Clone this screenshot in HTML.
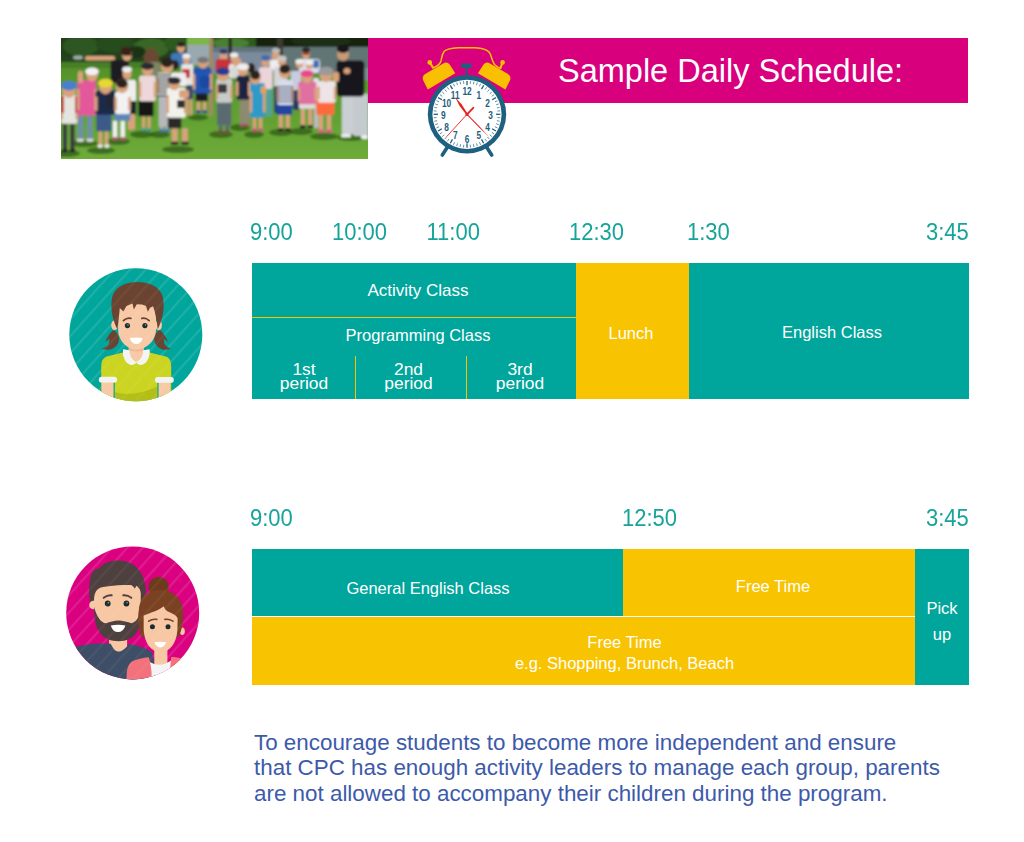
<!DOCTYPE html>
<html><head><meta charset="utf-8"><style>
html,body{margin:0;padding:0;background:#fff;}
body{width:1024px;height:842px;position:relative;overflow:hidden;font-family:"Liberation Sans",sans-serif;}
.a{position:absolute;}
.teal{background:#00A59B;}
.yel{background:#F8C300;}
.lbl{position:absolute;color:#16A49A;font-size:22px;line-height:26px;white-space:nowrap;transform:scaleY(1.05);transform-origin:0 20.6px;}
.ct{position:absolute;color:#fff;font-size:16.5px;line-height:18px;white-space:nowrap;text-align:center;}
.para{position:absolute;left:254px;top:730px;color:#3D5AAA;font-size:22.4px;line-height:25.4px;white-space:nowrap;}
</style></head><body>

<!-- photo -->
<!--PHOTO--><svg class="a" style="left:61px;top:38px;" width="307" height="121" viewBox="0 0 307 121"><defs><linearGradient id="gr" x1="0" y1="0" x2="0" y2="1"><stop offset="0" stop-color="#4A8426"/><stop offset="0.45" stop-color="#5C9C2E"/><stop offset="1" stop-color="#72AE3C"/></linearGradient><filter id="bl" x="-10%" y="-10%" width="120%" height="120%"><feGaussianBlur stdDeviation="0.9"/></filter></defs><g filter="url(#bl)"><rect x="-6.0" y="-6.0" width="325.0" height="139.0" rx="0" fill="url(#gr)"/><rect x="-6.0" y="-6.0" width="136.0" height="30.0" rx="0" fill="#22401A"/><ellipse cx="20.0" cy="8.0" rx="18.0" ry="10.0" fill="#2E5622"/><ellipse cx="55.0" cy="6.0" rx="20.0" ry="9.0" fill="#284C1E"/><ellipse cx="90.0" cy="10.0" rx="18.0" ry="10.0" fill="#3A6628"/><ellipse cx="115.0" cy="5.0" rx="12.0" ry="8.0" fill="#2E5A22"/><ellipse cx="75.0" cy="14.0" rx="10.0" ry="6.0" fill="#1A3214"/><rect x="-6.0" y="18.0" width="46.0" height="8.0" rx="0" fill="#24441A"/><ellipse cx="17.0" cy="19.5" rx="5.0" ry="2.0" fill="#9FB0A8"/><rect x="126.0" y="-6.0" width="24.0" height="14.0" rx="0" fill="#7DB548"/><rect x="126.0" y="7.0" width="28.0" height="20.0" rx="0" fill="#9AA8B0"/><rect x="150.0" y="-6.0" width="163.0" height="17.0" rx="0" fill="#16240F"/><rect x="150.0" y="-6.0" width="45.0" height="16.0" rx="0" fill="#2E5A1E"/><ellipse cx="170.0" cy="5.0" rx="18.0" ry="5.0" fill="#4A8030"/><ellipse cx="260.0" cy="3.0" rx="30.0" ry="6.0" fill="#1C2E16"/><rect x="150.0" y="9.0" width="163.0" height="27.0" rx="0" fill="#7A8B9C"/><rect x="150.0" y="9.0" width="163.0" height="5.0" rx="0" fill="#62727C"/><rect x="222.0" y="9.0" width="91.0" height="27.0" rx="0" fill="#627474"/><rect x="290.0" y="30.0" width="23.0" height="12.0" rx="0" fill="#7A8C90"/><rect x="167.5" y="0.0" width="3.5" height="22.0" rx="0" fill="#2A2A20"/><rect x="216.0" y="0.0" width="6.0" height="18.0" rx="0" fill="#3A3A30"/><rect x="-6.0" y="24.0" width="136.0" height="6.0" rx="0" fill="#467E26"/><rect x="148.0" y="0.0" width="4.0" height="78.0" rx="0.5" fill="#A08A60"/><ellipse cx="5.0" cy="115.5" rx="14.0" ry="3.5" fill="#2E5A18" opacity="0.75"/><ellipse cx="23.0" cy="105.5" rx="14.0" ry="3.5" fill="#2E5A18" opacity="0.75"/><ellipse cx="40.0" cy="112.5" rx="14.0" ry="3.5" fill="#2E5A18" opacity="0.75"/><ellipse cx="57.0" cy="103.5" rx="12.0" ry="3.5" fill="#2E5A18" opacity="0.75"/><ellipse cx="81.0" cy="96.5" rx="12.0" ry="3.5" fill="#2E5A18" opacity="0.75"/><ellipse cx="99.0" cy="96.5" rx="10.0" ry="3.5" fill="#2E5A18" opacity="0.75"/><ellipse cx="117.0" cy="111.5" rx="16.0" ry="3.5" fill="#2E5A18" opacity="0.75"/><ellipse cx="137.0" cy="79.5" rx="10.0" ry="3.0" fill="#2E5A18" opacity="0.75"/><ellipse cx="160.0" cy="96.5" rx="12.0" ry="3.5" fill="#2E5A18" opacity="0.75"/><ellipse cx="179.0" cy="89.5" rx="10.0" ry="3.5" fill="#2E5A18" opacity="0.75"/><ellipse cx="193.0" cy="96.5" rx="10.0" ry="3.5" fill="#2E5A18" opacity="0.75"/><ellipse cx="220.0" cy="94.5" rx="12.0" ry="3.5" fill="#2E5A18" opacity="0.75"/><ellipse cx="240.0" cy="93.5" rx="12.0" ry="3.5" fill="#2E5A18" opacity="0.75"/><ellipse cx="263.0" cy="98.5" rx="14.0" ry="3.5" fill="#2E5A18" opacity="0.75"/><ellipse cx="290.0" cy="99.5" rx="14.0" ry="3.5" fill="#2E5A18" opacity="0.75"/><rect x="24.0" y="18.0" width="30.0" height="4.5" rx="2" fill="#D9A27C"/><rect x="49.6" y="22.0" width="18.1" height="23.0" rx="3" fill="#1C1C22"/><ellipse cx="66.0" cy="17.0" rx="5.0" ry="6.0" fill="#D9A27C"/><ellipse cx="65.0" cy="13.0" rx="5.5" ry="4.0" fill="#3A2418"/><rect x="61.5" y="15.5" width="9.5" height="2.0" rx="0.8" fill="#111"/><ellipse cx="90.0" cy="18.0" rx="6.0" ry="7.0" fill="#D9A27C"/><path d="M83,20 Q84,10 90,10 Q97,10 98,22 L97,30 L94,24 L86,24 L83,32 Z" fill="#6A4A30"/><rect x="86.0" y="24.0" width="13.0" height="16.0" rx="3" fill="#7F8466"/><ellipse cx="120.0" cy="10.0" rx="4.0" ry="5.0" fill="#D9A27C"/><ellipse cx="120.0" cy="6.5" rx="4.0" ry="2.5" fill="#2B211B"/><rect x="110.0" y="15.0" width="20.0" height="13.0" rx="3" fill="#3D78B8"/><ellipse cx="125.5" cy="21.0" rx="4.0" ry="5.0" fill="#D9A27C"/><ellipse cx="125.5" cy="18.0" rx="4.2" ry="2.5" fill="#EEE"/><rect x="120.3" y="26.0" width="12.0" height="22.0" rx="2" fill="#E6E6E2"/><rect x="121.0" y="31.0" width="8.0" height="9.0" rx="1.5" fill="#C4303A"/><ellipse cx="162.5" cy="18.0" rx="3.8" ry="5.0" fill="#D9A27C"/><ellipse cx="162.5" cy="13.5" rx="4.0" ry="2.5" fill="#2A3A70"/><rect x="154.5" y="21.0" width="15.8" height="14.0" rx="2.5" fill="#C8303A"/><ellipse cx="173.0" cy="20.0" rx="3.8" ry="4.5" fill="#D9A27C"/><ellipse cx="173.0" cy="17.0" rx="4.2" ry="2.5" fill="#EEE"/><rect x="168.0" y="26.0" width="10.0" height="14.0" rx="2" fill="#E8E8E4"/><ellipse cx="215.0" cy="18.0" rx="4.0" ry="5.0" fill="#D9A27C"/><ellipse cx="215.0" cy="12.5" rx="4.2" ry="2.5" fill="#BBB"/><rect x="208.6" y="21.8" width="11.4" height="10.2" rx="2" fill="#EDEDED"/><ellipse cx="245.0" cy="16.0" rx="4.0" ry="5.0" fill="#D9A27C"/><ellipse cx="245.0" cy="12.0" rx="4.0" ry="2.5" fill="#2B211B"/><rect x="241.5" y="14.5" width="7.0" height="2.0" rx="0.8" fill="#7A2020"/><rect x="238.0" y="21.0" width="21.0" height="14.0" rx="3" fill="#D8DEE8"/><rect x="252.0" y="22.0" width="6.0" height="8.0" rx="2" fill="#3D6FB5"/><ellipse cx="238.5" cy="26.0" rx="3.8" ry="4.0" fill="#D9A27C"/><ellipse cx="238.5" cy="23.5" rx="4.2" ry="2.5" fill="#EEE"/><ellipse cx="248.5" cy="27.0" rx="3.8" ry="4.0" fill="#D9A27C"/><ellipse cx="248.5" cy="24.5" rx="4.2" ry="2.5" fill="#EEE"/><ellipse cx="221.0" cy="24.0" rx="4.0" ry="5.0" fill="#D9A27C"/><ellipse cx="221.0" cy="20.5" rx="4.5" ry="3.0" fill="#C8C8C8"/><rect x="213.0" y="29.0" width="13.0" height="21.0" rx="2" fill="#D4D4D8"/><rect x="213.0" y="48.0" width="9.0" height="27.0" rx="1.5" fill="#2B3F70"/><ellipse cx="204.5" cy="24.0" rx="4.0" ry="5.0" fill="#D9A27C"/><ellipse cx="204.5" cy="20.0" rx="4.3" ry="2.8" fill="#3A6AB0"/><rect x="198.0" y="29.3" width="13.6" height="21.7" rx="2" fill="#EBD5DA"/><rect x="204.9" y="51.0" width="6.0" height="27.0" rx="1" fill="#4FA39A"/><ellipse cx="66.0" cy="36.0" rx="4.5" ry="5.5" fill="#D9A27C"/><ellipse cx="66.0" cy="31.5" rx="4.8" ry="3.0" fill="#EEE"/><rect x="62.0" y="42.0" width="13.0" height="22.0" rx="2" fill="#EEEEEE"/><rect x="66.2" y="63.0" width="9.0" height="13.7" rx="1.5" fill="#1E2230"/><rect x="67.0" y="76.0" width="7.0" height="15.7" rx="1" fill="#D9A27C"/><ellipse cx="114.0" cy="27.0" rx="3.8" ry="5.0" fill="#2B211B"/><rect x="110.0" y="34.6" width="15.0" height="13.4" rx="2" fill="#EEE"/><ellipse cx="190.0" cy="30.0" rx="4.0" ry="5.0" fill="#2B211B"/><rect x="125.0" y="47.0" width="7.0" height="14.4" rx="1.5" fill="#3A4A6A"/><rect x="125.5" y="61.0" width="2.3" height="16.6" rx="0.8" fill="#D9A27C"/><rect x="129.0" y="61.0" width="2.3" height="16.6" rx="0.8" fill="#D9A27C"/><rect x="229.7" y="33.0" width="10.5" height="19.6" rx="2" fill="#C8CCE0"/><rect x="232.0" y="52.0" width="7.0" height="20.0" rx="1.5" fill="#2A3A60"/><rect x="252.0" y="40.0" width="6.0" height="22.0" rx="2" fill="#E8E0E8"/><rect x="253.0" y="62.0" width="4.5" height="28.0" rx="1" fill="#BBB"/><ellipse cx="176.0" cy="24.0" rx="4.2" ry="5.0" fill="#D9A27C"/><rect x="170.0" y="28.0" width="11.0" height="12.0" rx="2" fill="#D8D8D8"/><rect x="280.8" y="55.6" width="12.2" height="40.6" rx="2" fill="#C9CFD2"/><rect x="292.0" y="55.6" width="15.0" height="42.4" rx="2" fill="#C4CACD"/><rect x="275.6" y="22.6" width="27.8" height="36.0" rx="4" fill="#16181C"/><ellipse cx="282.0" cy="16.0" rx="6.0" ry="7.0" fill="#C99A76"/><ellipse cx="282.0" cy="11.0" rx="6.2" ry="4.0" fill="#15151A"/><rect x="280.0" y="96.0" width="10.0" height="3.5" rx="1.5" fill="#EEE"/><rect x="300.0" y="97.0" width="7.0" height="4.0" rx="1.5" fill="#EEE"/><ellipse cx="286.0" cy="33.0" rx="3.5" ry="3.0" fill="#D9A27C"/><rect x="1.8" y="85.7" width="4.3" height="27.1" rx="0.8" fill="#3A3A40"/><rect x="9.2" y="85.7" width="4.3" height="27.1" rx="0.8" fill="#3A3A40"/><rect x="1.0" y="111.3" width="5.6" height="3.0" rx="1" fill="#222"/><rect x="8.7" y="111.3" width="5.6" height="3.0" rx="1" fill="#222"/><rect x="0.0" y="57.0" width="16.5" height="28.7" rx="2.5" fill="#E4E4E0"/><rect x="-0.6" y="64.2" width="2.6" height="17.2" rx="1" fill="#D9A27C"/><rect x="14.5" y="64.2" width="2.6" height="17.2" rx="1" fill="#D9A27C"/><ellipse cx="8.0" cy="52.0" rx="7.0" ry="7.8" fill="#D9A27C"/><ellipse cx="8.0" cy="47.7" rx="8.2" ry="4.7" fill="#4A7FCC"/><rect x="0.0" y="58.0" width="3.0" height="17.0" rx="1" fill="#C03838"/><rect x="14.0" y="58.0" width="2.5" height="17.0" rx="1" fill="#C03838"/><rect x="17.0" y="77.4" width="5.2" height="24.9" rx="0.8" fill="#6E8EAA"/><rect x="26.1" y="77.4" width="5.2" height="24.9" rx="0.8" fill="#6E8EAA"/><rect x="16.0" y="100.8" width="6.8" height="3.0" rx="1" fill="#DDD"/><rect x="25.5" y="100.8" width="6.8" height="3.0" rx="1" fill="#DDD"/><rect x="16.5" y="42.0" width="18.8" height="35.4" rx="2.5" fill="#E2589A"/><rect x="15.9" y="50.9" width="2.6" height="21.2" rx="1" fill="#D9A27C"/><rect x="33.3" y="50.9" width="2.6" height="21.2" rx="1" fill="#D9A27C"/><ellipse cx="31.0" cy="37.0" rx="5.9" ry="6.5" fill="#D9A27C"/><ellipse cx="31.0" cy="33.4" rx="6.8" ry="3.9" fill="#F2F2F2"/><rect x="17.0" y="33.0" width="5.0" height="12.0" rx="2" fill="#D9A27C"/><rect x="37.5" y="93.2" width="3.6" height="15.1" rx="0.8" fill="#D9A27C"/><rect x="43.8" y="93.2" width="3.6" height="15.1" rx="0.8" fill="#D9A27C"/><rect x="36.8" y="106.8" width="4.7" height="3.0" rx="1" fill="#EEE"/><rect x="43.4" y="106.8" width="4.7" height="3.0" rx="1" fill="#EEE"/><rect x="35.3" y="75.2" width="15.1" height="18.0" rx="1" fill="#3A5A8A"/><rect x="34.6" y="52.6" width="21.0" height="24.1" rx="2.5" fill="#1E2A4A"/><rect x="34.0" y="58.6" width="2.6" height="14.5" rx="1" fill="#D9A27C"/><rect x="53.6" y="58.6" width="2.6" height="14.5" rx="1" fill="#D9A27C"/><ellipse cx="44.5" cy="49.0" rx="6.4" ry="7.2" fill="#D9A27C"/><ellipse cx="44.5" cy="45.1" rx="7.5" ry="4.3" fill="#E8D830"/><rect x="46.0" y="56.0" width="6.0" height="14.0" rx="1.5" fill="#222530"/><rect x="51.8" y="82.7" width="4.4" height="18.1" rx="0.8" fill="#F0F0F0"/><rect x="59.5" y="82.7" width="4.4" height="18.1" rx="0.8" fill="#F0F0F0"/><rect x="51.0" y="99.3" width="5.8" height="3.0" rx="1" fill="#B05070"/><rect x="58.9" y="99.3" width="5.8" height="3.0" rx="1" fill="#B05070"/><rect x="53.4" y="74.4" width="15.8" height="8.3" rx="1" fill="#5E86B8"/><rect x="54.0" y="53.4" width="15.2" height="22.5" rx="2.5" fill="#F2F2F2"/><rect x="53.4" y="59.0" width="2.6" height="13.5" rx="1" fill="#D9A27C"/><rect x="67.2" y="59.0" width="2.6" height="13.5" rx="1" fill="#D9A27C"/><ellipse cx="61.0" cy="48.0" rx="6.4" ry="7.2" fill="#D9A27C"/><ellipse cx="61.0" cy="45.5" rx="5.8" ry="4.5" fill="#2B211B"/><rect x="81.1" y="78.2" width="3.1" height="13.5" rx="0.8" fill="#D9A27C"/><rect x="86.5" y="78.2" width="3.1" height="13.5" rx="0.8" fill="#D9A27C"/><rect x="80.5" y="90.2" width="4.1" height="3.0" rx="1" fill="#2F9C90"/><rect x="86.1" y="90.2" width="4.1" height="3.0" rx="1" fill="#2F9C90"/><rect x="77.4" y="63.2" width="15.1" height="15.0" rx="1" fill="#141418"/><rect x="78.2" y="37.6" width="16.5" height="25.6" rx="2.5" fill="#EDD7DA"/><rect x="77.6" y="44.0" width="2.6" height="15.4" rx="1" fill="#D9A27C"/><rect x="92.7" y="44.0" width="2.6" height="15.4" rx="1" fill="#D9A27C"/><ellipse cx="86.5" cy="31.5" rx="5.6" ry="6.2" fill="#D9A27C"/><ellipse cx="86.5" cy="28.1" rx="6.6" ry="3.7" fill="#2A2A30"/><rect x="99.1" y="86.0" width="3.1" height="6.5" rx="0.8" fill="#B0B0B4"/><rect x="104.6" y="86.0" width="3.1" height="6.5" rx="0.8" fill="#B0B0B4"/><rect x="98.5" y="91.0" width="4.1" height="3.0" rx="1" fill="#4A6EC0"/><rect x="104.2" y="91.0" width="4.1" height="3.0" rx="1" fill="#4A6EC0"/><rect x="97.7" y="58.6" width="10.6" height="30.1" rx="1" fill="#B8B8BC"/><rect x="96.2" y="34.6" width="13.6" height="24.0" rx="2.5" fill="#E0E0E0"/><rect x="95.6" y="40.6" width="2.6" height="14.4" rx="1" fill="#D9A27C"/><rect x="107.8" y="40.6" width="2.6" height="14.4" rx="1" fill="#D9A27C"/><ellipse cx="106.0" cy="28.0" rx="6.4" ry="7.2" fill="#D9A27C"/><ellipse cx="106.0" cy="24.5" rx="6.0" ry="5.0" fill="#2B211B"/><rect x="96.2" y="36.0" width="13.6" height="1.3" rx="0" fill="#1A1A22"/><rect x="96.2" y="39.0" width="13.6" height="1.3" rx="0" fill="#1A1A22"/><rect x="96.2" y="42.0" width="13.6" height="1.3" rx="0" fill="#1A1A22"/><rect x="96.2" y="45.0" width="13.6" height="1.3" rx="0" fill="#1A1A22"/><rect x="96.2" y="48.0" width="13.6" height="1.3" rx="0" fill="#1A1A22"/><rect x="96.2" y="51.0" width="13.6" height="1.3" rx="0" fill="#1A1A22"/><rect x="96.2" y="54.0" width="13.6" height="1.3" rx="0" fill="#1A1A22"/><rect x="96.2" y="57.0" width="13.6" height="1.3" rx="0" fill="#1A1A22"/><rect x="110.9" y="90.2" width="5.8" height="15.1" rx="0.8" fill="#D9A27C"/><rect x="121.0" y="90.2" width="5.8" height="15.1" rx="0.8" fill="#D9A27C"/><rect x="109.8" y="103.8" width="7.6" height="3.0" rx="1" fill="#222"/><rect x="120.2" y="103.8" width="7.6" height="3.0" rx="1" fill="#222"/><rect x="106.8" y="78.2" width="13.5" height="12.0" rx="1" fill="#2A2A2A"/><rect x="106.0" y="49.6" width="18.8" height="30.1" rx="2.5" fill="#F2F2EC"/><rect x="105.4" y="57.1" width="2.6" height="18.1" rx="1" fill="#D9A27C"/><rect x="122.8" y="57.1" width="2.6" height="18.1" rx="1" fill="#D9A27C"/><ellipse cx="113.2" cy="46.0" rx="5.6" ry="6.2" fill="#D9A27C"/><ellipse cx="113.2" cy="42.6" rx="6.6" ry="3.7" fill="#2A2A30"/><rect x="118.0" y="52.0" width="10.0" height="8.0" rx="2" fill="#D9A27C"/><rect x="116.0" y="62.0" width="8.0" height="8.0" rx="1.5" fill="#303030"/><rect x="135.7" y="63.2" width="3.5" height="10.5" rx="0.8" fill="#D9A27C"/><rect x="141.8" y="63.2" width="3.5" height="10.5" rx="0.8" fill="#D9A27C"/><rect x="135.0" y="72.2" width="4.6" height="3.0" rx="1" fill="#2A4A9A"/><rect x="141.4" y="72.2" width="4.6" height="3.0" rx="1" fill="#2A4A9A"/><rect x="134.6" y="53.4" width="12.0" height="9.8" rx="1" fill="#1C1C22"/><rect x="132.3" y="29.3" width="18.1" height="26.3" rx="2.5" fill="#2255B0"/><rect x="131.7" y="35.9" width="2.6" height="15.8" rx="1" fill="#D9A27C"/><rect x="148.4" y="35.9" width="2.6" height="15.8" rx="1" fill="#D9A27C"/><ellipse cx="142.0" cy="25.0" rx="4.9" ry="5.5" fill="#D9A27C"/><ellipse cx="142.0" cy="22.0" rx="5.7" ry="3.3" fill="#777"/><rect x="139.0" y="38.0" width="10.0" height="12.0" rx="2" fill="#1E4AA0"/><rect x="157.7" y="87.2" width="3.8" height="6.8" rx="0.8" fill="#5A6A70"/><rect x="164.4" y="87.2" width="3.8" height="6.8" rx="0.8" fill="#5A6A70"/><rect x="157.0" y="92.5" width="5.0" height="3.0" rx="1" fill="#7A4A3A"/><rect x="164.0" y="92.5" width="5.0" height="3.0" rx="1" fill="#7A4A3A"/><rect x="156.0" y="63.2" width="14.3" height="24.0" rx="1" fill="#5A6A70"/><rect x="155.3" y="40.6" width="15.7" height="24.1" rx="2.5" fill="#C8CCC8"/><rect x="154.7" y="46.6" width="2.6" height="14.5" rx="1" fill="#D9A27C"/><rect x="169.0" y="46.6" width="2.6" height="14.5" rx="1" fill="#D9A27C"/><ellipse cx="162.0" cy="37.0" rx="5.9" ry="6.5" fill="#D9A27C"/><ellipse cx="162.0" cy="33.4" rx="6.8" ry="3.9" fill="#2A3A90"/><rect x="157.0" y="46.0" width="9.0" height="9.0" rx="1.5" fill="#3A3A40"/><rect x="179.5" y="80.0" width="2.9" height="7.0" rx="0.8" fill="#8C8A70"/><rect x="184.6" y="80.0" width="2.9" height="7.0" rx="0.8" fill="#8C8A70"/><rect x="179.0" y="85.5" width="3.8" height="3.0" rx="1" fill="#C04070"/><rect x="184.2" y="85.5" width="3.8" height="3.0" rx="1" fill="#C04070"/><rect x="178.6" y="60.0" width="10.4" height="25.7" rx="1" fill="#8C8A70"/><rect x="175.6" y="37.6" width="13.4" height="24.1" rx="2.5" fill="#1E2440"/><rect x="175.0" y="43.6" width="2.6" height="14.5" rx="1" fill="#D9A27C"/><rect x="187.0" y="43.6" width="2.6" height="14.5" rx="1" fill="#D9A27C"/><ellipse cx="182.0" cy="32.0" rx="5.3" ry="5.9" fill="#D9A27C"/><ellipse cx="182.0" cy="28.8" rx="6.1" ry="3.5" fill="#EEE"/><rect x="191.7" y="79.7" width="3.5" height="12.3" rx="0.8" fill="#D9A27C"/><rect x="197.8" y="79.7" width="3.5" height="12.3" rx="0.8" fill="#D9A27C"/><rect x="191.0" y="90.5" width="4.6" height="3.0" rx="1" fill="#D04A80"/><rect x="197.4" y="90.5" width="4.6" height="3.0" rx="1" fill="#D04A80"/><rect x="189.0" y="45.0" width="15.0" height="34.7" rx="2.5" fill="#2E9AC8"/><rect x="188.4" y="53.7" width="2.6" height="20.8" rx="1" fill="#D9A27C"/><rect x="202.0" y="53.7" width="2.6" height="20.8" rx="1" fill="#D9A27C"/><ellipse cx="194.3" cy="40.0" rx="5.6" ry="6.2" fill="#D9A27C"/><ellipse cx="194.3" cy="37.0" rx="5.0" ry="4.5" fill="#2B211B"/><rect x="200.0" y="48.0" width="5.0" height="8.0" rx="2" fill="#E8A050"/><rect x="217.8" y="76.7" width="4.0" height="15.0" rx="0.8" fill="#D9A27C"/><rect x="224.8" y="76.7" width="4.0" height="15.0" rx="0.8" fill="#D9A27C"/><rect x="217.0" y="90.2" width="5.2" height="3.0" rx="1" fill="#222"/><rect x="224.2" y="90.2" width="5.2" height="3.0" rx="1" fill="#222"/><rect x="215.4" y="66.0" width="15.8" height="10.7" rx="1" fill="#2244A0"/><rect x="216.2" y="42.0" width="15.8" height="25.0" rx="2.5" fill="#D8DCE8"/><rect x="215.6" y="48.2" width="2.6" height="15.0" rx="1" fill="#D9A27C"/><rect x="230.0" y="48.2" width="2.6" height="15.0" rx="1" fill="#D9A27C"/><ellipse cx="223.7" cy="34.0" rx="5.9" ry="6.5" fill="#D9A27C"/><ellipse cx="223.7" cy="31.0" rx="5.4" ry="4.6" fill="#2B211B"/><rect x="216.2" y="48.0" width="15.8" height="1.2" rx="0" fill="#3A4A7A"/><rect x="216.2" y="51.0" width="15.8" height="1.2" rx="0" fill="#3A4A7A"/><rect x="216.2" y="54.0" width="15.8" height="1.2" rx="0" fill="#3A4A7A"/><rect x="216.2" y="57.0" width="15.8" height="1.2" rx="0" fill="#3A4A7A"/><rect x="216.2" y="60.0" width="15.8" height="1.2" rx="0" fill="#3A4A7A"/><rect x="216.2" y="63.0" width="15.8" height="1.2" rx="0" fill="#3A4A7A"/><rect x="239.8" y="70.7" width="4.2" height="18.0" rx="0.8" fill="#D9A27C"/><rect x="247.1" y="70.7" width="4.2" height="18.0" rx="0.8" fill="#D9A27C"/><rect x="239.0" y="87.2" width="5.5" height="3.0" rx="1" fill="#222"/><rect x="246.5" y="87.2" width="5.5" height="3.0" rx="1" fill="#222"/><rect x="238.0" y="64.0" width="16.0" height="6.7" rx="1" fill="#DDD"/><rect x="237.2" y="43.6" width="18.1" height="22.6" rx="2.5" fill="#E070A0"/><rect x="236.6" y="49.2" width="2.6" height="13.6" rx="1" fill="#D9A27C"/><rect x="253.3" y="49.2" width="2.6" height="13.6" rx="1" fill="#D9A27C"/><ellipse cx="246.0" cy="39.0" rx="5.6" ry="6.2" fill="#D9A27C"/><ellipse cx="246.0" cy="35.6" rx="6.6" ry="3.7" fill="#E84A8C"/><rect x="257.8" y="76.7" width="4.5" height="16.5" rx="0.8" fill="#D9A27C"/><rect x="265.7" y="76.7" width="4.5" height="16.5" rx="0.8" fill="#D9A27C"/><rect x="257.0" y="91.7" width="5.9" height="3.0" rx="1" fill="#E0508A"/><rect x="265.1" y="91.7" width="5.9" height="3.0" rx="1" fill="#E0508A"/><rect x="255.3" y="61.7" width="18.0" height="15.0" rx="1" fill="#FF6A3C"/><rect x="256.8" y="42.9" width="18.0" height="21.8" rx="2.5" fill="#EEE4E8"/><rect x="256.2" y="48.4" width="2.6" height="13.1" rx="1" fill="#D9A27C"/><rect x="272.8" y="48.4" width="2.6" height="13.1" rx="1" fill="#D9A27C"/><ellipse cx="265.0" cy="37.0" rx="6.4" ry="7.2" fill="#D9A27C"/><ellipse cx="265.0" cy="33.1" rx="7.5" ry="4.3" fill="#9A9A9A"/><rect x="272.0" y="34.0" width="6.0" height="10.0" rx="2" fill="#D9A27C"/></g></svg><!--/PHOTO-->

<!-- banner -->
<div class="a" style="left:368px;top:38px;width:600px;height:65px;background:#D9007E;"></div>
<div class="a" style="left:558px;top:51px;color:#fff;font-size:32.5px;line-height:40px;white-space:nowrap;">Sample Daily Schedule:</div>

<!--CLOCK--><svg class="a" style="left:420px;top:40px;" width="95" height="120" viewBox="420 40 95 120"><path d="M434,67.5 C437.5,66 440,64.5 441,61 C441.8,57 441.8,54 444.5,51 C447.5,48.3 452,48 458,47.7 L475,47.7 C481,48 486,48.6 489,52 C491.5,55 491.5,60 494.5,64.5 C496,66 498,67.2 500,68.3" fill="none" stroke="#F8C000" stroke-width="1.5" stroke-linecap="round"/><line x1="429.7" y1="62.4" x2="433.6" y2="68.5" stroke="#F8C000" stroke-width="2.2"/><circle cx="429.7" cy="62.4" r="2.3" fill="#F8C000"/><line x1="502.6" y1="62.4" x2="500.2" y2="68.6" stroke="#F8C000" stroke-width="2.2"/><circle cx="502.6" cy="62.4" r="2.3" fill="#F8C000"/><path d="M0,0 L31.8,0 L31.6,-9 C31.4,-13 29.5,-14.6 26.5,-14.6 L6,-14.6 C2.5,-14.6 1,-12.5 0.6,-10 Z" fill="#F8C000" transform="translate(427.8,89.4) rotate(-30.4)"/><path d="M0,0 L31.8,0 L31.6,-9 C31.4,-13 29.5,-14.6 26.5,-14.6 L6,-14.6 C2.5,-14.6 1,-12.5 0.6,-10 Z" fill="#F8C000" transform="translate(933.2,0) scale(-1,1) translate(427.8,89.4) rotate(-30.4)"/><rect x="461.3" y="63.5" width="10.2" height="4.4" fill="#1E6080"/><rect x="465.5" y="67.5" width="2" height="8" fill="#1E6080"/><line x1="447.5" y1="147" x2="442.3" y2="155" stroke="#1E6080" stroke-width="3.6" stroke-linecap="round"/><line x1="486.5" y1="147" x2="491.7" y2="155" stroke="#1E6080" stroke-width="3.6" stroke-linecap="round"/><circle cx="467" cy="114.3" r="39.2" fill="#1E6080"/><circle cx="467" cy="114.3" r="34.6" fill="#fff"/><line x1="467.00" y1="85.30" x2="467.00" y2="80.90" stroke="#1E6080" stroke-width="1.3"/><line x1="470.20" y1="83.87" x2="470.49" y2="81.08" stroke="#1E6080" stroke-width="0.7"/><line x1="473.36" y1="84.37" x2="473.94" y2="81.63" stroke="#1E6080" stroke-width="0.7"/><line x1="476.46" y1="85.20" x2="477.32" y2="82.53" stroke="#1E6080" stroke-width="0.7"/><line x1="479.45" y1="86.35" x2="480.59" y2="83.79" stroke="#1E6080" stroke-width="0.7"/><line x1="481.50" y1="89.19" x2="483.70" y2="85.37" stroke="#1E6080" stroke-width="1.3"/><line x1="484.99" y1="89.54" x2="486.63" y2="87.28" stroke="#1E6080" stroke-width="0.7"/><line x1="487.48" y1="91.56" x2="489.35" y2="89.48" stroke="#1E6080" stroke-width="0.7"/><line x1="489.74" y1="93.82" x2="491.82" y2="91.95" stroke="#1E6080" stroke-width="0.7"/><line x1="491.76" y1="96.31" x2="494.02" y2="94.67" stroke="#1E6080" stroke-width="0.7"/><line x1="492.11" y1="99.80" x2="495.93" y2="97.60" stroke="#1E6080" stroke-width="1.3"/><line x1="494.95" y1="101.85" x2="497.51" y2="100.71" stroke="#1E6080" stroke-width="0.7"/><line x1="496.10" y1="104.84" x2="498.77" y2="103.98" stroke="#1E6080" stroke-width="0.7"/><line x1="496.93" y1="107.94" x2="499.67" y2="107.36" stroke="#1E6080" stroke-width="0.7"/><line x1="497.43" y1="111.10" x2="500.22" y2="110.81" stroke="#1E6080" stroke-width="0.7"/><line x1="496.00" y1="114.30" x2="500.40" y2="114.30" stroke="#1E6080" stroke-width="1.3"/><line x1="497.43" y1="117.50" x2="500.22" y2="117.79" stroke="#1E6080" stroke-width="0.7"/><line x1="496.93" y1="120.66" x2="499.67" y2="121.24" stroke="#1E6080" stroke-width="0.7"/><line x1="496.10" y1="123.76" x2="498.77" y2="124.62" stroke="#1E6080" stroke-width="0.7"/><line x1="494.95" y1="126.75" x2="497.51" y2="127.89" stroke="#1E6080" stroke-width="0.7"/><line x1="492.11" y1="128.80" x2="495.93" y2="131.00" stroke="#1E6080" stroke-width="1.3"/><line x1="491.76" y1="132.29" x2="494.02" y2="133.93" stroke="#1E6080" stroke-width="0.7"/><line x1="489.74" y1="134.78" x2="491.82" y2="136.65" stroke="#1E6080" stroke-width="0.7"/><line x1="487.48" y1="137.04" x2="489.35" y2="139.12" stroke="#1E6080" stroke-width="0.7"/><line x1="484.99" y1="139.06" x2="486.63" y2="141.32" stroke="#1E6080" stroke-width="0.7"/><line x1="481.50" y1="139.41" x2="483.70" y2="143.23" stroke="#1E6080" stroke-width="1.3"/><line x1="479.45" y1="142.25" x2="480.59" y2="144.81" stroke="#1E6080" stroke-width="0.7"/><line x1="476.46" y1="143.40" x2="477.32" y2="146.07" stroke="#1E6080" stroke-width="0.7"/><line x1="473.36" y1="144.23" x2="473.94" y2="146.97" stroke="#1E6080" stroke-width="0.7"/><line x1="470.20" y1="144.73" x2="470.49" y2="147.52" stroke="#1E6080" stroke-width="0.7"/><line x1="467.00" y1="143.30" x2="467.00" y2="147.70" stroke="#1E6080" stroke-width="1.3"/><line x1="463.80" y1="144.73" x2="463.51" y2="147.52" stroke="#1E6080" stroke-width="0.7"/><line x1="460.64" y1="144.23" x2="460.06" y2="146.97" stroke="#1E6080" stroke-width="0.7"/><line x1="457.54" y1="143.40" x2="456.68" y2="146.07" stroke="#1E6080" stroke-width="0.7"/><line x1="454.55" y1="142.25" x2="453.41" y2="144.81" stroke="#1E6080" stroke-width="0.7"/><line x1="452.50" y1="139.41" x2="450.30" y2="143.23" stroke="#1E6080" stroke-width="1.3"/><line x1="449.01" y1="139.06" x2="447.37" y2="141.32" stroke="#1E6080" stroke-width="0.7"/><line x1="446.52" y1="137.04" x2="444.65" y2="139.12" stroke="#1E6080" stroke-width="0.7"/><line x1="444.26" y1="134.78" x2="442.18" y2="136.65" stroke="#1E6080" stroke-width="0.7"/><line x1="442.24" y1="132.29" x2="439.98" y2="133.93" stroke="#1E6080" stroke-width="0.7"/><line x1="441.89" y1="128.80" x2="438.07" y2="131.00" stroke="#1E6080" stroke-width="1.3"/><line x1="439.05" y1="126.75" x2="436.49" y2="127.89" stroke="#1E6080" stroke-width="0.7"/><line x1="437.90" y1="123.76" x2="435.23" y2="124.62" stroke="#1E6080" stroke-width="0.7"/><line x1="437.07" y1="120.66" x2="434.33" y2="121.24" stroke="#1E6080" stroke-width="0.7"/><line x1="436.57" y1="117.50" x2="433.78" y2="117.79" stroke="#1E6080" stroke-width="0.7"/><line x1="438.00" y1="114.30" x2="433.60" y2="114.30" stroke="#1E6080" stroke-width="1.3"/><line x1="436.57" y1="111.10" x2="433.78" y2="110.81" stroke="#1E6080" stroke-width="0.7"/><line x1="437.07" y1="107.94" x2="434.33" y2="107.36" stroke="#1E6080" stroke-width="0.7"/><line x1="437.90" y1="104.84" x2="435.23" y2="103.98" stroke="#1E6080" stroke-width="0.7"/><line x1="439.05" y1="101.85" x2="436.49" y2="100.71" stroke="#1E6080" stroke-width="0.7"/><line x1="441.89" y1="99.80" x2="438.07" y2="97.60" stroke="#1E6080" stroke-width="1.3"/><line x1="442.24" y1="96.31" x2="439.98" y2="94.67" stroke="#1E6080" stroke-width="0.7"/><line x1="444.26" y1="93.82" x2="442.18" y2="91.95" stroke="#1E6080" stroke-width="0.7"/><line x1="446.52" y1="91.56" x2="444.65" y2="89.48" stroke="#1E6080" stroke-width="0.7"/><line x1="449.01" y1="89.54" x2="447.37" y2="87.28" stroke="#1E6080" stroke-width="0.7"/><line x1="452.50" y1="89.19" x2="450.30" y2="85.37" stroke="#1E6080" stroke-width="1.3"/><line x1="454.55" y1="86.35" x2="453.41" y2="83.79" stroke="#1E6080" stroke-width="0.7"/><line x1="457.54" y1="85.20" x2="456.68" y2="82.53" stroke="#1E6080" stroke-width="0.7"/><line x1="460.64" y1="84.37" x2="460.06" y2="81.63" stroke="#1E6080" stroke-width="0.7"/><line x1="463.80" y1="83.87" x2="463.51" y2="81.08" stroke="#1E6080" stroke-width="0.7"/><text transform="translate(478.80,98.56) scale(0.8,1)" text-anchor="middle" font-size="10.4" font-weight="bold" fill="#1E6080" font-family="Liberation Sans">1</text><text transform="translate(487.44,107.20) scale(0.8,1)" text-anchor="middle" font-size="10.4" font-weight="bold" fill="#1E6080" font-family="Liberation Sans">2</text><text transform="translate(490.60,119.00) scale(0.8,1)" text-anchor="middle" font-size="10.4" font-weight="bold" fill="#1E6080" font-family="Liberation Sans">3</text><text transform="translate(487.44,130.80) scale(0.8,1)" text-anchor="middle" font-size="10.4" font-weight="bold" fill="#1E6080" font-family="Liberation Sans">4</text><text transform="translate(478.80,139.44) scale(0.8,1)" text-anchor="middle" font-size="10.4" font-weight="bold" fill="#1E6080" font-family="Liberation Sans">5</text><text transform="translate(467.00,142.60) scale(0.8,1)" text-anchor="middle" font-size="10.4" font-weight="bold" fill="#1E6080" font-family="Liberation Sans">6</text><text transform="translate(455.20,139.44) scale(0.8,1)" text-anchor="middle" font-size="10.4" font-weight="bold" fill="#1E6080" font-family="Liberation Sans">7</text><text transform="translate(446.56,130.80) scale(0.8,1)" text-anchor="middle" font-size="10.4" font-weight="bold" fill="#1E6080" font-family="Liberation Sans">8</text><text transform="translate(443.40,119.00) scale(0.8,1)" text-anchor="middle" font-size="10.4" font-weight="bold" fill="#1E6080" font-family="Liberation Sans">9</text><text transform="translate(446.56,107.20) scale(0.8,1)" text-anchor="middle" font-size="10.4" font-weight="bold" fill="#1E6080" font-family="Liberation Sans">10</text><text transform="translate(455.20,98.56) scale(0.8,1)" text-anchor="middle" font-size="10.4" font-weight="bold" fill="#1E6080" font-family="Liberation Sans">11</text><text transform="translate(467.00,95.40) scale(0.8,1)" text-anchor="middle" font-size="10.4" font-weight="bold" fill="#1E6080" font-family="Liberation Sans">12</text><path d="M467.66,113.84 L461.58,104.21 L455.20,97.30 L459.44,105.69 L466.34,114.76 Z" fill="#E8231E"/><line x1="467" y1="114.3" x2="473.3" y2="107.8" stroke="#E8231E" stroke-width="1.9" stroke-linecap="round"/><path d="M466.64,114.65 L478.82,127.28 L489.20,137.20 L479.60,126.51 L467.36,113.95 Z" fill="#E8231E"/><line x1="467" y1="114.3" x2="446.5" y2="136.8" stroke="#E8231E" stroke-width="0.9"/><rect x="465.5" y="112.8" width="3" height="3" fill="#E8231E"/></svg><!--/CLOCK-->

<!-- timeline 1 -->
<div class="lbl" style="left:250px;top:220px;">9:00</div>
<div class="lbl" style="left:332px;top:220px;">10:00</div>
<div class="lbl" style="left:426.5px;top:220px;">11:00</div>
<div class="lbl" style="left:569px;top:220px;">12:30</div>
<div class="lbl" style="left:687px;top:220px;">1:30</div>
<div class="lbl" style="left:926px;top:220px;">3:45</div>

<div class="a teal" style="left:252px;top:263px;width:324px;height:136px;"></div>
<div class="a" style="left:252px;top:317px;width:324px;height:1px;background:#F8C300;"></div>
<div class="a" style="left:355px;top:356px;width:1px;height:43px;background:#F8C300;"></div>
<div class="a" style="left:466px;top:356px;width:1px;height:43px;background:#F8C300;"></div>
<div class="a yel" style="left:576px;top:263px;width:113px;height:136px;"></div>
<div class="a teal" style="left:689px;top:263px;width:280px;height:136px;"></div>

<div class="ct" style="left:252px;width:332px;top:282px;font-size:17px;">Activity Class</div>
<div class="ct" style="left:252px;width:332px;top:326px;">Programming Class</div>
<div class="ct" style="left:252px;width:104px;top:363px;line-height:13.6px;font-size:17.4px;">1st<br>period</div>
<div class="ct" style="left:353.5px;width:110px;top:363px;line-height:13.6px;font-size:17.4px;">2nd<br>period</div>
<div class="ct" style="left:465.5px;width:109px;top:363px;line-height:13.6px;font-size:17.4px;">3rd<br>period</div>
<div class="ct" style="left:576px;width:110px;top:324px;">Lunch</div>
<div class="ct" style="left:689px;width:286px;top:323px;">English Class</div>

<!-- timeline 2 -->
<div class="lbl" style="left:250px;top:506px;">9:00</div>
<div class="lbl" style="left:622px;top:506px;">12:50</div>
<div class="lbl" style="left:926px;top:506px;">3:45</div>

<div class="a teal" style="left:252px;top:549px;width:371px;height:67px;"></div>
<div class="a yel" style="left:623px;top:549px;width:292px;height:67px;"></div>
<div class="a yel" style="left:252px;top:617px;width:663px;height:68px;"></div>
<div class="a teal" style="left:915px;top:549px;width:54px;height:136px;"></div>

<div class="ct" style="left:252px;width:352px;top:579px;">General English Class</div>
<div class="ct" style="left:623px;width:300px;top:577px;">Free Time</div>
<div class="ct" style="left:252px;width:745px;top:632px;line-height:21.4px;">Free Time<br>e.g. Shopping, Brunch, Beach</div>
<div class="ct" style="left:915px;width:54px;top:596px;line-height:25.5px;">Pick<br>up</div>

<div class="para">To encourage students to become more independent and ensure<br>that CPC has enough activity leaders to manage each group, parents<br>are not allowed to accompany their children during the program.</div>

<!-- avatars -->
<!--GIRL--><svg class="a" style="left:69px;top:268px;" width="134" height="134" viewBox="69 268 134 134">
<defs>
<clipPath id="cg"><circle cx="135.8" cy="334.8" r="66.5"/></clipPath>
<pattern id="stg" patternUnits="userSpaceOnUse" width="11.5" height="11.5" patternTransform="rotate(42)">
<rect x="0" y="0" width="2.2" height="11.5" fill="#fff"/>
</pattern>
</defs>
<circle cx="135.8" cy="334.8" r="66.5" fill="#00A59B"/>
<g clip-path="url(#cg)">
<rect x="69" y="268" width="134" height="134" fill="url(#stg)" opacity="0.075"/>
<!-- pigtails -->
<path id="pt" d="M113.2,330.2 C116.5,331.5 119,335 119,339 C119,343.5 116,347.5 111,349.3 C108,350.2 105,349.8 102.3,348.7 C105,347.5 107.5,346 108.8,344 C109.2,342 109.4,340.5 109.4,338.8 L105.1,342.1 C106.2,339.5 107.5,337 108.9,335 C110.3,333 111.7,331.3 113.2,330.2 Z" fill="#6B4431"/>
<path d="M113.2,330.2 C116.5,331.5 119,335 119,339 C119,343.5 116,347.5 111,349.3 C108,350.2 105,349.8 102.3,348.7 C105,347.5 107.5,346 108.8,344 C109.2,342 109.4,340.5 109.4,338.8 L105.1,342.1 C106.2,339.5 107.5,337 108.9,335 C110.3,333 111.7,331.3 113.2,330.2 Z" fill="#6B4431" transform="translate(273.2,0) scale(-1,1)"/>
<!-- shirt -->
<path d="M101.2,402 L101.2,367 C101.3,361 102.5,358.5 106.6,356.4 L123,352.5 L149.5,352.5 L166.7,356.8 C170,358.5 171,361.5 171.2,367 L171.3,402 Z" fill="#CBD521"/>
<path d="M114.8,392 Q132,398 157.4,386.5 L157.4,403 L114.8,403 Z" fill="#B4BE18"/>
<!-- arms -->
<rect x="101.9" y="380" width="11.7" height="24" fill="#F8C9A6"/>
<rect x="158.5" y="380" width="11.6" height="24" fill="#F8C9A6"/>
<rect x="113.6" y="382.6" width="1.2" height="22" fill="#00A59B"/>
<rect x="157.4" y="382.6" width="1.1" height="22" fill="#00A59B"/>
<rect x="98.8" y="376.7" width="18.3" height="5.9" rx="2.9" fill="#F3F3F3"/>
<rect x="155" y="377.1" width="18.8" height="5.6" rx="2.8" fill="#F3F3F3"/>
<!-- neck -->
<rect x="128.8" y="343" width="15" height="17" fill="#F8C9A6"/>
<path d="M128.8,346.5 L143.8,346.5 L143.8,350.5 Q136.3,352.5 128.8,350.5 Z" fill="#EEB894"/>
<!-- collar -->
<path d="M123,349.6 C122.3,358 126.5,362.5 131.5,362.3 C133.5,362.2 135.3,361.2 136.3,360.2 C137.3,361.2 139.1,362.2 141.1,362.3 C146.1,362.5 150.2,358 149.4,349.6 L143.3,350.2 C143.3,356.5 140,361 136.3,361 C132.6,361 129.3,356.5 129.3,350.2 Z" fill="#F4F4F4"/>
<path d="M123,349.6 C122.3,358 126.5,364.8 131.5,365 C133.5,365 135.3,364 136.3,362.5 C137.3,364 139.1,365 141.1,365 C146.1,364.8 150.2,358 149.4,349.6 L143.3,350.2 C143.3,356.5 140,361.5 136.3,361.5 C132.6,361.5 129.3,356.5 129.3,350.2 Z" fill="#F4F4F4"/>
<!-- ears -->
<ellipse cx="114.6" cy="325.3" rx="3.3" ry="4.8" fill="#F8C9A6"/>
<ellipse cx="158.6" cy="325.3" rx="3.3" ry="4.8" fill="#F8C9A6"/>
<!-- face -->
<path d="M118.1,300 L118.1,330 C118.5,342 128,349.5 136.3,349.5 C145,349.5 155.5,342 156,330 L156,300 Z" fill="#F8C9A6"/>
<!-- hair -->
<path d="M117.3,329.3 C114.5,324 112.2,317 111.6,310 C111.2,305 111.3,300 112.5,296 C115.5,287 125,282 137.5,282 C150,282 159.5,287 162.5,296 C163.7,300 163.8,305 163.4,310 C162.8,317 160.5,324 157.7,329.3 C156.8,321 155.5,313 153.1,306.3 L150,307.8 L147.8,311.7 L146,306 L142,304.5 L136.8,304.2 L133.8,309.5 L132.5,303.5 L126.5,306 L123.4,311.5 L119.8,308 C119.2,315 118.5,322 117.3,329.3 Z" fill="#6B4431"/>
<!-- eyebrows -->
<path d="M123.4,320.6 Q127,317.3 130.9,318.4" fill="none" stroke="#6B4431" stroke-width="1.7" stroke-linecap="round"/>
<path d="M141.8,318.4 Q145.7,317.3 149.2,320.6" fill="none" stroke="#6B4431" stroke-width="1.7" stroke-linecap="round"/>
<!-- eyes -->
<circle cx="127.4" cy="325.6" r="2.6" fill="#1C2A2E"/>
<circle cx="144.9" cy="325.6" r="2.6" fill="#1C2A2E"/>
<circle cx="128" cy="325" r="0.7" fill="#fff" opacity="0.6"/>
<circle cx="145.5" cy="325" r="0.7" fill="#fff" opacity="0.6"/>
<!-- mouth -->
<path d="M129.8,338 Q136.3,336.8 142.7,338 Q141,344 136.3,344 Q131.5,344 129.8,338 Z" fill="#fff"/>
<!-- stripes over figure -->
<rect x="69" y="268" width="134" height="134" fill="url(#stg)" opacity="0.045"/>
</g>
</svg>
<!--/GIRL-->
<!--PARENT--><svg class="a" style="left:66px;top:546px;" width="134" height="134" viewBox="66 546 134 134">
<defs>
<clipPath id="cp"><circle cx="132.7" cy="612.9" r="66.5"/></clipPath>
<pattern id="stp" patternUnits="userSpaceOnUse" width="11.5" height="11.5" patternTransform="rotate(42)">
<rect x="0" y="0" width="2.2" height="11.5" fill="#fff"/>
</pattern>
</defs>
<circle cx="132.7" cy="612.9" r="66.5" fill="#DA0080"/>
<g clip-path="url(#cp)">
<rect x="66" y="546" width="134" height="134" fill="url(#stp)" opacity="0.07"/>
<!-- man neck -->
<rect x="109.1" y="632" width="18" height="20" fill="#F7C8A3"/>
<!-- man shirt -->
<path d="M60,650 L85,644.8 C95,643.2 103,643.3 110.8,643.7 C113,648.5 115.5,651.6 118.7,651.6 C122,651.6 126,648 128.8,644.3 C138,645 147,648.5 152.4,652.7 L160,700 L60,700 Z" fill="#3E4E66"/>
<!-- man hair -->
<path d="M90.3,603 C88.6,594 88.6,584 90.5,577 C92,571.5 95,568.5 99,568.6 C103,563 110,560.6 118.8,560.6 C129,560.6 137,565.5 141.5,574 C144.5,580 146,586 146,592 L140.5,604 L94,604 Z" fill="#4F4040"/>
<!-- man ear -->
<circle cx="93.5" cy="605" r="4.3" fill="#F7C8A3"/>
<!-- man face -->
<path d="M94,600 C94,593 96.5,588.2 103,587 C108,586.2 113,585.6 118,585.2 C123,585 128,584.8 133,585 C137.5,585.5 140.5,588.5 140.8,594 L140.5,612 C140,620 136,624 130,626 L100,626 C96,622 94,612 94,600 Z" fill="#F7C8A3"/>
<!-- hair lock -->
<path d="M130.4,584.4 C132.5,585.5 134,587 134.9,588.8 C136,586.8 136.5,585 136.3,584 Z" fill="#4F4040"/>
<!-- beard -->
<path d="M94,607 C94,621 97,632 104,637 C109,640.6 114,641.2 119,641.2 C126,641.2 133,638.3 136.5,633 C139.5,628 140.6,620 140.6,611 C138.5,618.5 135.5,622.5 131.5,623.3 C127.5,621.8 122.5,620.4 118.5,620.4 C114,620.4 110,621.8 106,623.3 C101,623 97,617 94,607 Z" fill="#4F4040"/>
<!-- man mouth -->
<path d="M110.8,625.4 Q118,624.3 125.4,625.4 Q123.5,632 118,632 Q112.5,632 110.8,625.4 Z" fill="#fff"/>
<!-- man eyebrows -->
<path d="M103.7,597.8 Q107.5,594.8 111.7,595.3" fill="none" stroke="#4F4040" stroke-width="1.9" stroke-linecap="round"/>
<path d="M123.3,595.3 Q127.5,594.8 131.3,597.8" fill="none" stroke="#4F4040" stroke-width="1.9" stroke-linecap="round"/>
<!-- man eyes -->
<circle cx="107.7" cy="603.5" r="2.9" fill="#1C2A2E"/>
<circle cx="126.4" cy="603.5" r="2.9" fill="#1C2A2E"/>
<circle cx="108.4" cy="602.8" r="0.8" fill="#fff" opacity="0.55"/>
<circle cx="127.1" cy="602.8" r="0.8" fill="#fff" opacity="0.55"/>
<!-- woman bun -->
<circle cx="158.6" cy="587" r="10.2" fill="#6E3A1C"/>
<!-- woman neck -->
<rect x="154.3" y="645" width="13.1" height="20" fill="#F7C8A3"/>
<!-- woman white shirt -->
<path d="M148.7,661.5 Q160,668.5 171.1,660.5 L172,690 L148,690 Z" fill="#F4F4F4"/>
<!-- woman jacket -->
<path d="M126,690 L126.8,672 C127.8,665 130.5,661.5 135.5,660 C140,658.6 144.5,657.6 148.7,657.3 C150,661 151,666 151.5,672 L152,690 Z" fill="#F2717B"/>
<path d="M171.1,657 C175,657 179,657.5 182.4,659 C186,660.5 190,663 195,668 L190,690 L170,690 L170.2,668 Z" fill="#F2717B"/>
<!-- woman ear -->
<ellipse cx="182.3" cy="631.3" rx="2.5" ry="3.8" fill="#F7C8A3"/>
<!-- woman hair back -->
<path d="M141.2,637 C137.8,626 137.6,613 140,604 C143.5,595 150.5,590 159.5,590 C170,590 178,595.5 181.5,604 C184.3,612 183.8,624 178.8,637 Z" fill="#7A4222"/>
<!-- woman face -->
<path d="M143.6,603 L143.7,630 C144.5,643 151,652 160.5,652 C170,652 176.5,643 177.4,630 L178,603 Z" fill="#F7C8A3"/>
<!-- woman hair front -->
<path d="M141.2,636 C140.5,628 141.5,620 142.5,616.1 C147,614 151,612.6 155,611.2 C159,609.5 161.5,608 163.7,606.2 C164.5,608.5 165.5,610 167.4,611.2 C170,612.5 172.5,613.5 174.9,614.9 C176.5,616 177.8,617.8 178.6,619.9 C179,626 179,631 178.6,636.1 C182.5,628 184,618 182.5,608 C180.5,597 171,590 160,590 C149,590 141.5,596 139.5,606 C137.8,616 138.5,627 141.2,636 Z" fill="#7A4222"/>
<!-- woman eyebrows -->
<path d="M148.7,621.2 Q152.5,618.6 156.8,619.4" fill="none" stroke="#7A4222" stroke-width="1.6" stroke-linecap="round"/>
<path d="M164.9,619.4 Q169,618.6 173,621.2" fill="none" stroke="#7A4222" stroke-width="1.6" stroke-linecap="round"/>
<!-- woman eyes -->
<circle cx="152.4" cy="626.7" r="2.5" fill="#1C2A2E"/>
<circle cx="168" cy="626.7" r="2.5" fill="#1C2A2E"/>
<!-- woman mouth -->
<path d="M154.3,642.3 Q160.2,641.2 166.2,642.3 Q164.4,647.4 160.2,647.4 Q156,647.4 154.3,642.3 Z" fill="#fff"/>
<rect x="66" y="546" width="134" height="134" fill="url(#stp)" opacity="0.045"/>
</g>
</svg>
<!--/PARENT-->

</body></html>
